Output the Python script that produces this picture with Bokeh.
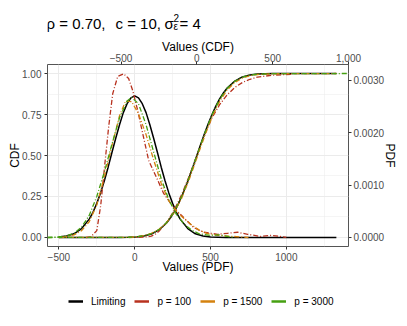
from bokeh.plotting import figure
from bokeh.layouts import column
from bokeh.models import Range1d, LinearAxis, FixedTicker, Label, Legend, LegendItem
from bokeh.embed import file_html
from bokeh.resources import INLINE

# ---------------- data ----------------
# PDF curves: x on the lower axis "Values (PDF)", y = density (right axis)
lim_pdf_x = [-500, -450, -400, -350, -300, -275, -250, -225, -200, -175, -150, -125, -100, -75, -50, -25, 0,
             25, 50, 75, 100, 125, 150, 175, 200, 225, 250, 275, 300, 350, 400, 450, 500, 600, 800, 1000, 1330]
lim_pdf_y = [0.00001, 0.00003, 0.00007, 0.00017, 0.00035, 0.00048, 0.00065, 0.00085, 0.00108, 0.00134, 0.00162,
             0.00189, 0.00215, 0.00238, 0.00255, 0.00266, 0.0027, 0.00266, 0.00255, 0.00238, 0.00215, 0.00189,
             0.00162, 0.00134, 0.00108, 0.00085, 0.00065, 0.00048, 0.00035, 0.00017, 0.00007, 0.00003, 0.00001,
             0, 0, 0, 0]

p100_pdf_x = [-320, -290, -250, -224, -198, -172, -145, -112, -73, -40, -13, 20, 53, 92, 152, 191, 257, 323,
              389, 455, 547, 613, 679, 745, 831, 900, 960, 1000]
p100_pdf_y = [0, 0.00001, 0.00013, 0.00061, 0.00137, 0.0021, 0.00274, 0.00307, 0.00312, 0.00303, 0.0028,
              0.00242, 0.00198, 0.00147, 0.00109, 0.00084, 0.00057, 0.00038, 0.00019, 0.0001, 0.00006, 0.00008,
              0.0001, 0.00006, 0.00002, 0.00004, 0.00002, 0]

p1500_pdf_x = [-480, -400, -350, -300, -250, -200, -150, -100, -60, -20, 25, 75, 125, 175, 225, 275, 325, 375,
               425, 475, 550, 650, 750]
p1500_pdf_y = [0, 0.00005, 0.00013, 0.0003, 0.00062, 0.00115, 0.00175, 0.00232, 0.0026, 0.00259, 0.00236,
               0.00196, 0.00148, 0.00103, 0.0007, 0.0005, 0.00036, 0.00024, 0.00014, 0.00008, 0.00004, 0.00002, 0]

p3000_pdf_x = [-575, -500, -450, -400, -350, -300, -250, -200, -150, -100, -50, -20, 25, 75, 125, 175, 225, 275,
               325, 375, 425, 500, 560, 650]
p3000_pdf_y = [0, 0.00001, 0.00003, 0.00008, 0.0002, 0.00042, 0.00078, 0.00125, 0.00178, 0.00228, 0.0026,
               0.00267, 0.00255, 0.00215, 0.00163, 0.00112, 0.00072, 0.00044, 0.00026, 0.00014, 0.00007,
               0.00004, 0.00005, 0]

# CDF curves: x on the upper axis "Values (CDF)", y = CDF (left axis)
lim_cdf_x = [-910, -500, -450, -400, -350, -300, -250, -200, -175, -150, -125, -100, -75, -50, -25, 0, 25, 50,
             75, 100, 125, 150, 175, 200, 250, 300, 350, 400, 450, 500, 920]
lim_cdf_y = [0.0, 0.0004, 0.0012, 0.0035, 0.009, 0.021, 0.046, 0.088, 0.119, 0.155, 0.199, 0.250, 0.306, 0.368,
             0.433, 0.500, 0.567, 0.632, 0.694, 0.750, 0.801, 0.845, 0.881, 0.912, 0.954, 0.979, 0.991, 0.9965,
             0.9988, 0.9996, 1.0]

p100_cdf_x = [-450, -350, -300, -275, -250, -200, -150, -100, -50, 0, 50, 100, 150, 200, 250, 300, 350, 400,
              500, 620]
p100_cdf_y = [0.0, 0.002, 0.008, 0.02, 0.038, 0.09, 0.165, 0.262, 0.375, 0.50, 0.625, 0.73, 0.81, 0.87, 0.915,
              0.945, 0.965, 0.978, 0.99, 0.995]

p1500_cdf_x = [-910, -450, -400, -350, -300, -250, -200, -150, -100, -50, 0, 50, 100, 150, 200, 250, 300, 350,
               400, 500, 600, 920]
p1500_cdf_y = [0.0, 0.001, 0.004, 0.011, 0.025, 0.05, 0.09, 0.152, 0.24, 0.355, 0.485, 0.615, 0.735, 0.83, 0.9,
               0.945, 0.972, 0.987, 0.994, 0.998, 0.9995, 1.0]

p3000_cdf_x = [-985, -500, -450, -400, -350, -300, -250, -200, -150, -100, -50, 0, 50, 100, 150, 200, 250, 300,
               350, 400, 500, 990]
p3000_cdf_y = [0.0, 0.0005, 0.0015, 0.004, 0.01, 0.023, 0.048, 0.09, 0.157, 0.252, 0.37, 0.5, 0.63, 0.748,
               0.843, 0.91, 0.953, 0.978, 0.99, 0.996, 0.9995, 1.0]

series_labels = ["Limiting", "p = 100", "p = 1500", "p = 3000"]

pdf_ticks = [-500, 0, 500, 1000]
pdf_minor = [-250, 250, 750, 1250]
cdf_xticks = [-500, 0, 500, 1000]
cdf_xtick_labels = ["\u2212500", "0", "500", "1,000"]
cdf_yticks = [0, 0.25, 0.5, 0.75, 1.0]
cdf_yminor = [0.125, 0.375, 0.625, 0.875]
dens_ticks = [0, 0.001, 0.002, 0.003]

# ---------------- layout / style ----------------
FONT = "Liberation Sans"
COLORS = ["#000000", "#B8321F", "#D4820F", "#46A012"]
PDF_PER_CDF = 0.003125   # right-axis units per left-axis unit
SHIFT = 410              # top axis = bottom axis - SHIFT
W = 407
H_TITLE, H_MAIN = 32, 252
H_LEG = 326 - H_TITLE - H_MAIN
FRAME_LEFT = 47          # column aligns every figure's frame to this edge

# ---- title strip ----
ft = figure(width=W, height=H_TITLE, output_backend="svg", toolbar_location=None,
            x_axis_type=None, y_axis_type=None, min_border=0,
            x_range=Range1d(0, 1), y_range=Range1d(0, 1))
ft.outline_line_color = None
title_parts = [("\u03c1 = 0.70,", 46, 9.5, "15px"),
               ("c = 10,", 115, 9.5, "15px"),
               ("\u03c3", 164, 9.5, "15px"),
               ("2", 173, 15, "10px"),
               ("\u03b5", 173, 6.5, "10px"),
               ("= 4", 179, 9.5, "15px")]
for txt, x, y, fs in title_parts:
    ft.add_layout(Label(x=x - FRAME_LEFT, y=y, x_units="screen", y_units="screen", text=txt,
                        text_font=FONT, text_font_size=fs, text_color="black",
                        text_baseline="alphabetic", text_align="left"))

# ---- main panel ----
p = figure(width=W, height=H_MAIN, output_backend="svg", toolbar_location=None,
           x_range=Range1d(-575, 1410), y_range=Range1d(-0.055, 1.055),
           min_border_left=FRAME_LEFT, min_border_right=59, min_border_top=64 - H_TITLE,
           min_border_bottom=H_TITLE + H_MAIN - 246)
p.extra_x_ranges = {"cdf": Range1d(-575 - SHIFT, 1410 - SHIFT)}
p.extra_y_ranges = {"pdf": Range1d(-0.055 * PDF_PER_CDF, 1.055 * PDF_PER_CDF)}
p.background_fill_color = "white"
p.border_fill_color = "white"
p.outline_line_color = "#555555"
p.outline_line_width = 1


def style_axis(ax, label, tick_standoff, label_standoff):
    ax.axis_label = label
    ax.axis_label_text_font = FONT
    ax.axis_label_text_font_size = "12px"
    ax.axis_label_text_font_style = "normal"
    ax.axis_label_text_color = "black"
    ax.axis_label_standoff = label_standoff
    ax.major_label_text_font = FONT
    ax.major_label_text_font_size = "10px"
    ax.major_label_text_color = "#4D4D4D"
    ax.major_label_standoff = tick_standoff
    ax.major_tick_in = 0
    ax.major_tick_out = 3
    ax.major_tick_line_color = "#333333"
    ax.minor_tick_line_color = None
    ax.axis_line_color = None


xb = p.xaxis[0]
xb.ticker = FixedTicker(ticks=pdf_ticks, minor_ticks=pdf_minor)
xb.major_label_overrides = {-500: "\u2212500"}
style_axis(xb, "Values (PDF)", 2, -4)

yl = p.yaxis[0]
yl.ticker = FixedTicker(ticks=cdf_yticks, minor_ticks=cdf_yminor)
yl.major_label_overrides = {v: f"{v:.2f}" for v in cdf_yticks}
style_axis(yl, "CDF", 2, -3)

xt = LinearAxis(x_range_name="cdf")
xt.ticker = FixedTicker(ticks=cdf_xticks)
xt.major_label_overrides = dict(zip(cdf_xticks, cdf_xtick_labels))
style_axis(xt, "Values (CDF)", 0, -3)
p.add_layout(xt, "above")

yr = LinearAxis(y_range_name="pdf")
yr.ticker = FixedTicker(ticks=dens_ticks)
yr.major_label_overrides = {v: f"{v:.4f}" for v in dens_ticks}
style_axis(yr, "PDF", 2, -4)
p.add_layout(yr, "right")

for g in (p.xgrid[0], p.ygrid[0]):
    g.grid_line_color = "#EBEBEB"
    g.grid_line_width = 1
    g.minor_grid_line_color = "#EBEBEB"
    g.minor_grid_line_width = 0.5
p.xgrid[0].ticker = xb.ticker
p.ygrid[0].ticker = yl.ticker

pdf_sets = [(lim_pdf_x, lim_pdf_y), (p100_pdf_x, p100_pdf_y), (p1500_pdf_x, p1500_pdf_y), (p3000_pdf_x, p3000_pdf_y)]
cdf_sets = [(lim_cdf_x, lim_cdf_y), (p100_cdf_x, p100_cdf_y), (p1500_cdf_x, p1500_cdf_y), (p3000_cdf_x, p3000_cdf_y)]

for i, ((px_, py_), (cx_, cy_)) in enumerate(zip(pdf_sets, cdf_sets)):
    kw = dict(line_color=COLORS[i], line_width=1.5 if i == 0 else 1.3)
    if i > 0:
        kw["line_dash"] = "5 2 1 2"
    p.line(px_, py_, y_range_name="pdf", **kw)
    p.line(cx_, cy_, x_range_name="cdf", **kw)

# ---- legend strip (key glyphs are solid copies of the series, kept off this strip's view) ----
fl = figure(width=W, height=H_LEG, output_backend="svg", toolbar_location=None,
            x_axis_type=None, y_axis_type=None, min_border=0,
            x_range=Range1d(5000, 5001), y_range=Range1d(5000, 5001))
fl.outline_line_color = None
items = []
for i, (lab, (px_, py_)) in enumerate(zip(series_labels, pdf_sets)):
    r = fl.line(px_, py_, line_color=COLORS[i], line_width=2.5)
    items.append(LegendItem(label=lab, renderers=[r]))
legend = Legend(items=items, location=(68 - FRAME_LEFT, 326 - 308), orientation="horizontal",
                glyph_width=15, glyph_height=14, label_height=14, label_standoff=8, spacing=9,
                padding=0, margin=0, border_line_color=None, background_fill_alpha=0,
                label_text_font=FONT, label_text_font_size="10px", label_text_color="black")
fl.add_layout(legend, "center")

layout = column(ft, p, fl, spacing=0)
open("out.html", "w").write(file_html(layout, INLINE))
